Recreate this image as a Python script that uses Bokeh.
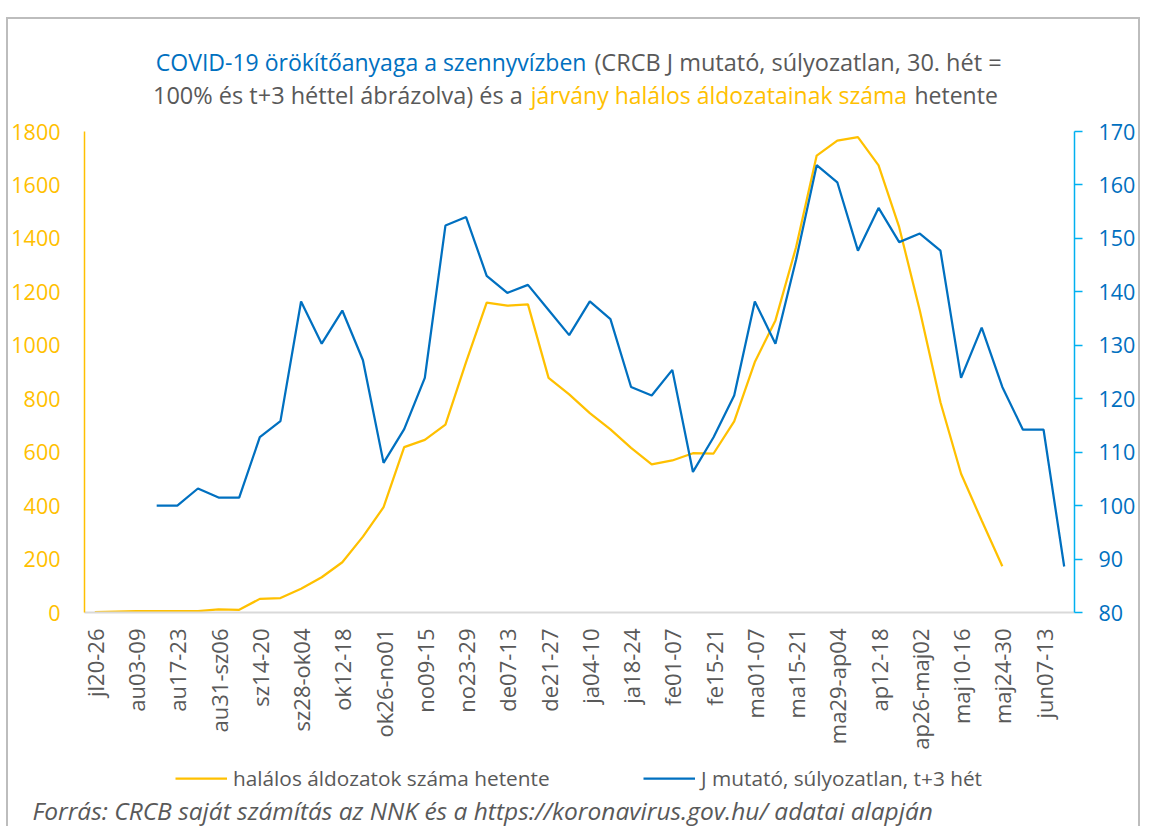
from bokeh.plotting import figure
from bokeh.layouts import column
from bokeh.models import (Range1d, LinearAxis, FixedTicker, Legend, LegendItem,
                          Label, Title)
from bokeh.embed import file_html
from bokeh.resources import INLINE

# ---------------- data ----------------
weeks = ["jl20-26", "jl27-au02", "au03-09", "au10-16", "au17-23", "au24-30",
         "au31-sz06", "sz07-13", "sz14-20", "sz21-27", "sz28-ok04", "ok05-11",
         "ok12-18", "ok19-25", "ok26-no01", "no02-08", "no09-15", "no16-22",
         "no23-29", "no30-de06", "de07-13", "de14-20", "de21-27", "de28-ja03",
         "ja04-10", "ja11-17", "ja18-24", "ja25-31", "fe01-07", "fe08-14",
         "fe15-21", "fe22-28", "ma01-07", "ma08-14", "ma15-21", "ma22-28",
         "ma29-ap04", "ap05-11", "ap12-18", "ap19-25", "ap26-maj02", "maj03-09",
         "maj10-16", "maj17-23", "maj24-30", "maj31-jun06", "jun07-13", "jun14-20"]

# weekly deaths (left axis), weeks jl20-26 .. maj24-30
deaths = [1, 3, 5, 5, 5, 5, 12, 10, 51, 54, 89, 132, 188, 284, 394, 619, 646,
          703, 937, 1160, 1148, 1153, 878, 816, 746, 685, 616, 554, 569, 596,
          595, 715, 937, 1093, 1367, 1710, 1766, 1779, 1673, 1442, 1130, 787,
          519, 344, 173]

# J indicator (right axis, t+3 weeks), weeks au10-16 .. jun14-20
j_index = [100.0, 100.0, 103.2, 101.5, 101.5, 112.8, 115.8, 138.2, 130.3,
           136.5, 127.2, 108.0, 114.3, 123.9, 152.4, 154.0, 143.0, 139.8,
           141.3, 136.6, 131.9, 138.2, 134.9, 122.2, 120.6, 125.4, 106.3,
           112.8, 120.6, 138.2, 130.3, 146.0, 163.7, 160.5, 147.7, 155.7,
           149.3, 150.9, 147.7, 123.9, 133.3, 122.2, 114.2, 114.2, 88.6]
j_start = 3  # first week index of the J series

left_ticks = list(range(0, 1801, 200))
right_ticks = list(range(80, 171, 10))

title_l1_blue = "COVID-19 örökítőanyaga a szennyvízben"
title_l1_gray = "(CRCB J mutató, súlyozatlan, 30. hét ="
title_l2_gray = "100% és t+3 héttel ábrázolva) és a"
title_l2_yellow = "járvány halálos áldozatainak száma"
title_l2_gray2 = "hetente"
legend_deaths = "halálos áldozatok száma hetente"
legend_j = "J mutató, súlyozatlan, t+3 hét"
source_text = "Forrás: CRCB saját számítás az NNK és a https://koronavirus.gov.hu/ adatai alapján"

# ---------------- style ----------------
YELLOW = "#FFC000"
BLUE = "#0070C0"
LIGHTBLUE = "#00B0F0"
GRAY = "#595959"
FONT = "Open Sans"

# outer chart border (like the Excel chart area)
M_TOP, M_LEFT, BORDER = 17, 6, 2
OX = M_LEFT + BORDER     # page x of the layout content
OY = M_TOP + BORDER      # page y of the layout content
W = 1130
FX0, FX1 = 82, 1078      # frame extent in page pixels
BL, BR = FX0 - OX - 2, OX + W - FX1 - 3   # small correction for the border box


def blank_fig(h, y0):
    f = figure(width=W, height=h, output_backend="svg", toolbar_location=None,
               x_range=Range1d(FX0, FX1), y_range=Range1d(y0 + h, y0),
               x_axis_location=None, y_axis_location=None,
               min_border_left=BL, min_border_right=BR,
               min_border_top=0, min_border_bottom=0)
    f.outline_line_color = None
    f.xgrid.visible = False
    f.ygrid.visible = False
    f.border_fill_color = "white"
    return f


def lab(f, text, x, y, color, align, size="23px", style="normal"):
    f.add_layout(Label(x=x, y=y, text=text, text_align=align,
                       text_baseline="alphabetic", text_color=color,
                       text_font=FONT, text_font_size=size,
                       text_font_style=style))

# ---------------- title ----------------
TOP_END = 118
t = blank_fig(TOP_END - OY, OY)
lab(t, title_l1_blue, 587, 61, BLUE, "right")
lab(t, title_l1_gray, 595, 61, GRAY, "left", size="23.5px")
lab(t, title_l2_gray, 523, 94, GRAY, "right", size="23.5px")
lab(t, title_l2_yellow, 531, 94, YELLOW, "left")
lab(t, title_l2_gray2, 917, 94, GRAY, "left")

# ---------------- main chart ----------------
MAIN_H = 637
x_all = list(range(len(weeks)))
x_deaths = x_all[:len(deaths)]
x_j = x_all[j_start:j_start + len(j_index)]

p = figure(width=W, height=MAIN_H, output_backend="svg", toolbar_location=None,
           x_range=Range1d(-0.5, len(weeks) - 0.5),
           y_range=Range1d(left_ticks[0], left_ticks[-1]),
           min_border_left=BL, min_border_right=BR, min_border_top=13,
           min_border_bottom=143)
p.outline_line_color = None
p.xgrid.visible = False
p.ygrid.visible = False
p.border_fill_color = "white"

p.extra_y_ranges = {"j": Range1d(right_ticks[0], right_ticks[-1])}

p.line(x_deaths, deaths, line_color=YELLOW, line_width=2.25)
p.line(x_j, j_index, line_color=BLUE, line_width=2.25, y_range_name="j")

# x axis
xa = p.xaxis[0]
xa.ticker = FixedTicker(ticks=x_all[::2])
xa.major_label_overrides = {i: weeks[i] for i in x_all[::2]}
xa.major_label_orientation = 3.14159265 / 2
xa.major_tick_line_color = None
xa.major_tick_out = 0
xa.major_tick_in = 0
xa.minor_tick_line_color = None
xa.axis_line_color = "#D9D9D9"
xa.axis_line_width = 2
xa.major_label_standoff = 16
xa.major_label_text_font = FONT
xa.major_label_text_font_size = "22px"
xa.major_label_text_color = GRAY

# left axis
ya = p.yaxis[0]
ya.ticker = FixedTicker(ticks=left_ticks)
ya.major_tick_line_color = None
ya.major_tick_out = 0
ya.major_tick_in = 0
ya.minor_tick_line_color = None
ya.axis_line_color = YELLOW
ya.axis_line_width = 1.5
ya.major_label_standoff = 24
ya.major_label_text_font = FONT
ya.major_label_text_font_size = "21.5px"
ya.major_label_text_color = YELLOW

# right axis
ra = LinearAxis(y_range_name="j", ticker=FixedTicker(ticks=right_ticks))
ra.axis_line_color = LIGHTBLUE
ra.axis_line_width = 1.5
ra.major_tick_line_color = LIGHTBLUE
ra.major_tick_line_width = 1.5
ra.major_tick_out = 8
ra.major_tick_in = 0
ra.minor_tick_line_color = None
ra.major_label_standoff = 16
ra.major_label_text_font = FONT
ra.major_label_text_font_size = "21.5px"
ra.major_label_text_color = BLUE
p.add_layout(ra, "right")

# ---------------- legend + source ----------------
BOT_Y0 = TOP_END + MAIN_H
BOT_H = 834 - 8 - BOT_Y0
b = blank_fig(BOT_H, BOT_Y0)
b.y_range = Range1d(0, 1)

src = Title(text=source_text, align="left", offset=30 - FX0, standoff=0,
            text_font=FONT, text_font_size="24.5px", text_font_style="italic",
            text_color=GRAY)
b.add_layout(src, "below")

nan = float("nan")
for item_label, color, lx in [(legend_deaths, YELLOW, 173), (legend_j, BLUE, 641)]:
    rend = b.line([nan], [nan], line_color=color, line_width=2.25)
    lg = Legend(items=[LegendItem(label=item_label, renderers=[rend])],
                location=(lx - FX0, -1),
                orientation="horizontal",
                glyph_width=52, glyph_height=20, label_standoff=6,
                padding=0, margin=0, spacing=0,
                border_line_color=None, background_fill_alpha=0,
                label_text_font=FONT, label_text_font_size="20.8px",
                label_text_color=GRAY, label_text_baseline="middle")
    b.add_layout(lg, "center")

layout = column(t, p, b, spacing=0, margin=(M_TOP, 0, 0, M_LEFT),
                styles={"box-sizing": "content-box",
                        "border-left": f"{BORDER}px solid #BDBDBD",
                        "border-top": f"{BORDER}px solid #BDBDBD",
                        "border-right": f"{BORDER}px solid #BDBDBD"})
open("out.html", "w").write(file_html(layout, INLINE))
